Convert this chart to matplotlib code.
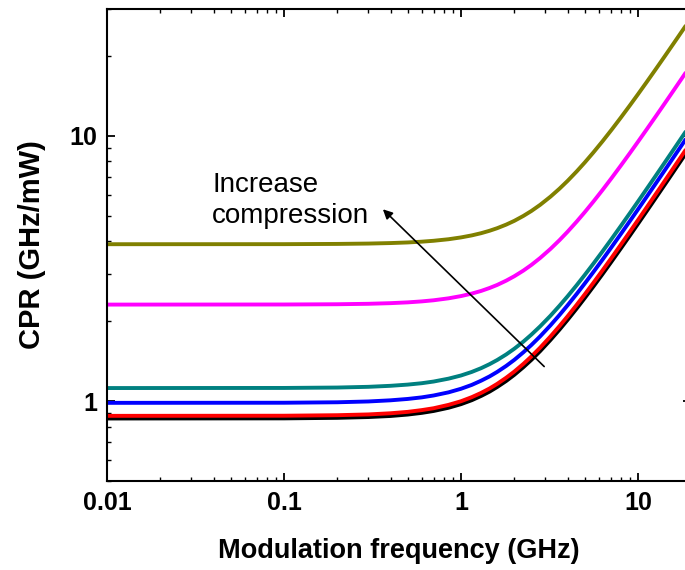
import matplotlib
matplotlib.use("Agg")
import matplotlib.pyplot as plt
from matplotlib.ticker import FixedLocator, FuncFormatter, NullFormatter

# modulation frequency grid (GHz)
freq = [0.01, 0.1, 0.2, 0.3, 0.4, 0.5, 0.6, 0.7, 0.85, 1.0, 1.15, 1.3, 1.45, 1.6, 1.8,
        2.0, 2.25, 2.5, 2.8, 3.2, 3.6, 4.0, 4.5, 5.0, 5.6, 6.3, 7.1, 8.0, 9.0, 10.0,
        11.2, 12.6, 14.2, 16.0, 18.0, 20.0]

# CPR (GHz/mW) for increasing gain compression
cpr_black = [0.860, 0.861, 0.865, 0.871, 0.879, 0.890, 0.903, 0.918, 0.944, 0.974, 1.008,
             1.046, 1.086, 1.130, 1.191, 1.256, 1.342, 1.431, 1.543, 1.699, 1.859, 2.023,
             2.232, 2.445, 2.704, 3.009, 3.362, 3.762, 4.208, 4.657, 5.198, 5.831, 6.556,
             7.374, 8.284, 9.195]
cpr_red = [0.880, 0.881, 0.885, 0.891, 0.900, 0.911, 0.925, 0.940, 0.968, 0.999, 1.035,
           1.074, 1.116, 1.161, 1.225, 1.292, 1.381, 1.474, 1.590, 1.751, 1.917, 2.087,
           2.304, 2.524, 2.792, 3.108, 3.472, 3.886, 4.348, 4.812, 5.371, 6.026, 6.775,
           7.620, 8.561, 9.503]
cpr_blue = [0.985, 0.986, 0.990, 0.997, 1.007, 1.019, 1.033, 1.050, 1.079, 1.113, 1.151,
            1.194, 1.239, 1.288, 1.357, 1.430, 1.527, 1.628, 1.754, 1.929, 2.110, 2.296,
            2.532, 2.773, 3.066, 3.411, 3.810, 4.263, 4.769, 5.277, 5.889, 6.606, 7.427,
            8.353, 9.383, 10.415]
cpr_teal = [1.120, 1.121, 1.125, 1.132, 1.142, 1.154, 1.168, 1.185, 1.215, 1.249, 1.288,
            1.331, 1.378, 1.428, 1.499, 1.575, 1.675, 1.781, 1.913, 2.096, 2.287, 2.482,
            2.732, 2.987, 3.297, 3.664, 4.088, 4.570, 5.109, 5.650, 6.303, 7.067, 7.943,
            8.931, 10.031, 11.133]
cpr_magenta = [2.310, 2.312, 2.317, 2.326, 2.339, 2.355, 2.375, 2.398, 2.439, 2.487, 2.541,
               2.601, 2.668, 2.739, 2.843, 2.954, 3.102, 3.260, 3.461, 3.743, 4.039, 4.346,
               4.742, 5.149, 5.648, 6.241, 6.931, 7.717, 8.599, 9.489, 10.563, 11.824,
               13.271, 14.905, 16.726, 18.551]
cpr_olive = [3.900, 3.902, 3.910, 3.922, 3.939, 3.960, 3.987, 4.018, 4.072, 4.137, 4.210,
             4.292, 4.383, 4.481, 4.623, 4.776, 4.984, 5.205, 5.488, 5.889, 6.313, 6.755,
             7.329, 7.921, 8.651, 9.522, 10.538, 11.700, 13.008, 14.330, 15.928, 17.806,
             19.964, 22.404, 25.124, 27.852]

curves = [
    (cpr_black, "#000000"),
    (cpr_red, "#ff0000"),
    (cpr_blue, "#0000ff"),
    (cpr_teal, "#008080"),
    (cpr_magenta, "#ff00ff"),
    (cpr_olive, "#808000"),
]

x_major = [0.01, 0.1, 1, 10]
y_major = [1, 10]

# arrow: tail at the low curves, head near the label
arrow_tail = (2.95, 1.35)
arrow_head = (0.362, 5.28)
label_pos = (0.0392, 5.70)


def minor_positions(lo_exp, hi_exp):
    out = []
    for e in range(lo_exp, hi_exp + 1):
        for m in range(2, 10):
            out.append(m * 10.0 ** e)
    return out


plt.rcParams["font.family"] = ["Liberation Sans", "DejaVu Sans"]

fig = plt.figure(figsize=(6.85, 5.70), dpi=100)
ax = fig.add_axes([0.1562, 0.1561, 0.8530, 0.8281])

for values, color in curves:
    ax.plot(freq, values, color=color, lw=2.8, solid_capstyle="butt")

ax.set_xscale("log")
ax.set_yscale("log")
ax.set_xlim(0.01, 20)
ax.set_ylim(0.5, 30)

ax.xaxis.set_major_locator(FixedLocator(x_major))
ax.xaxis.set_minor_locator(FixedLocator(minor_positions(-2, 1)))
ax.yaxis.set_major_locator(FixedLocator(y_major))
ax.yaxis.set_minor_locator(FixedLocator(minor_positions(-1, 1)))
fmt = FuncFormatter(lambda v, pos: "%g" % v)
ax.xaxis.set_major_formatter(fmt)
ax.yaxis.set_major_formatter(fmt)
ax.xaxis.set_minor_formatter(NullFormatter())
ax.yaxis.set_minor_formatter(NullFormatter())

ax.tick_params(which="both", direction="in", top=True, right=True)
ax.tick_params(which="major", length=5.8, width=1.3, labelsize=18, pad=7)
ax.tick_params(which="minor", length=3.0, width=1.0)
for lab in ax.get_xticklabels() + ax.get_yticklabels():
    lab.set_fontweight("bold")
for sp in ax.spines.values():
    sp.set_linewidth(1.5)

ax.set_xlabel("Modulation frequency (GHz)", fontsize=19.5, fontweight="bold", labelpad=17)
ax.set_ylabel("CPR (GHz/mW)", fontsize=21, fontweight="bold", labelpad=17)

ax.annotate("", xy=arrow_head, xytext=arrow_tail,
            arrowprops=dict(arrowstyle="-|>", color="black", lw=1.2, mutation_scale=14,
                            shrinkA=0, shrinkB=0))
ax.text(label_pos[0], label_pos[1], "Increase\ncompression", fontsize=20,
        ha="left", va="center", linespacing=1.25)

fig.savefig("out.png", dpi=100)
